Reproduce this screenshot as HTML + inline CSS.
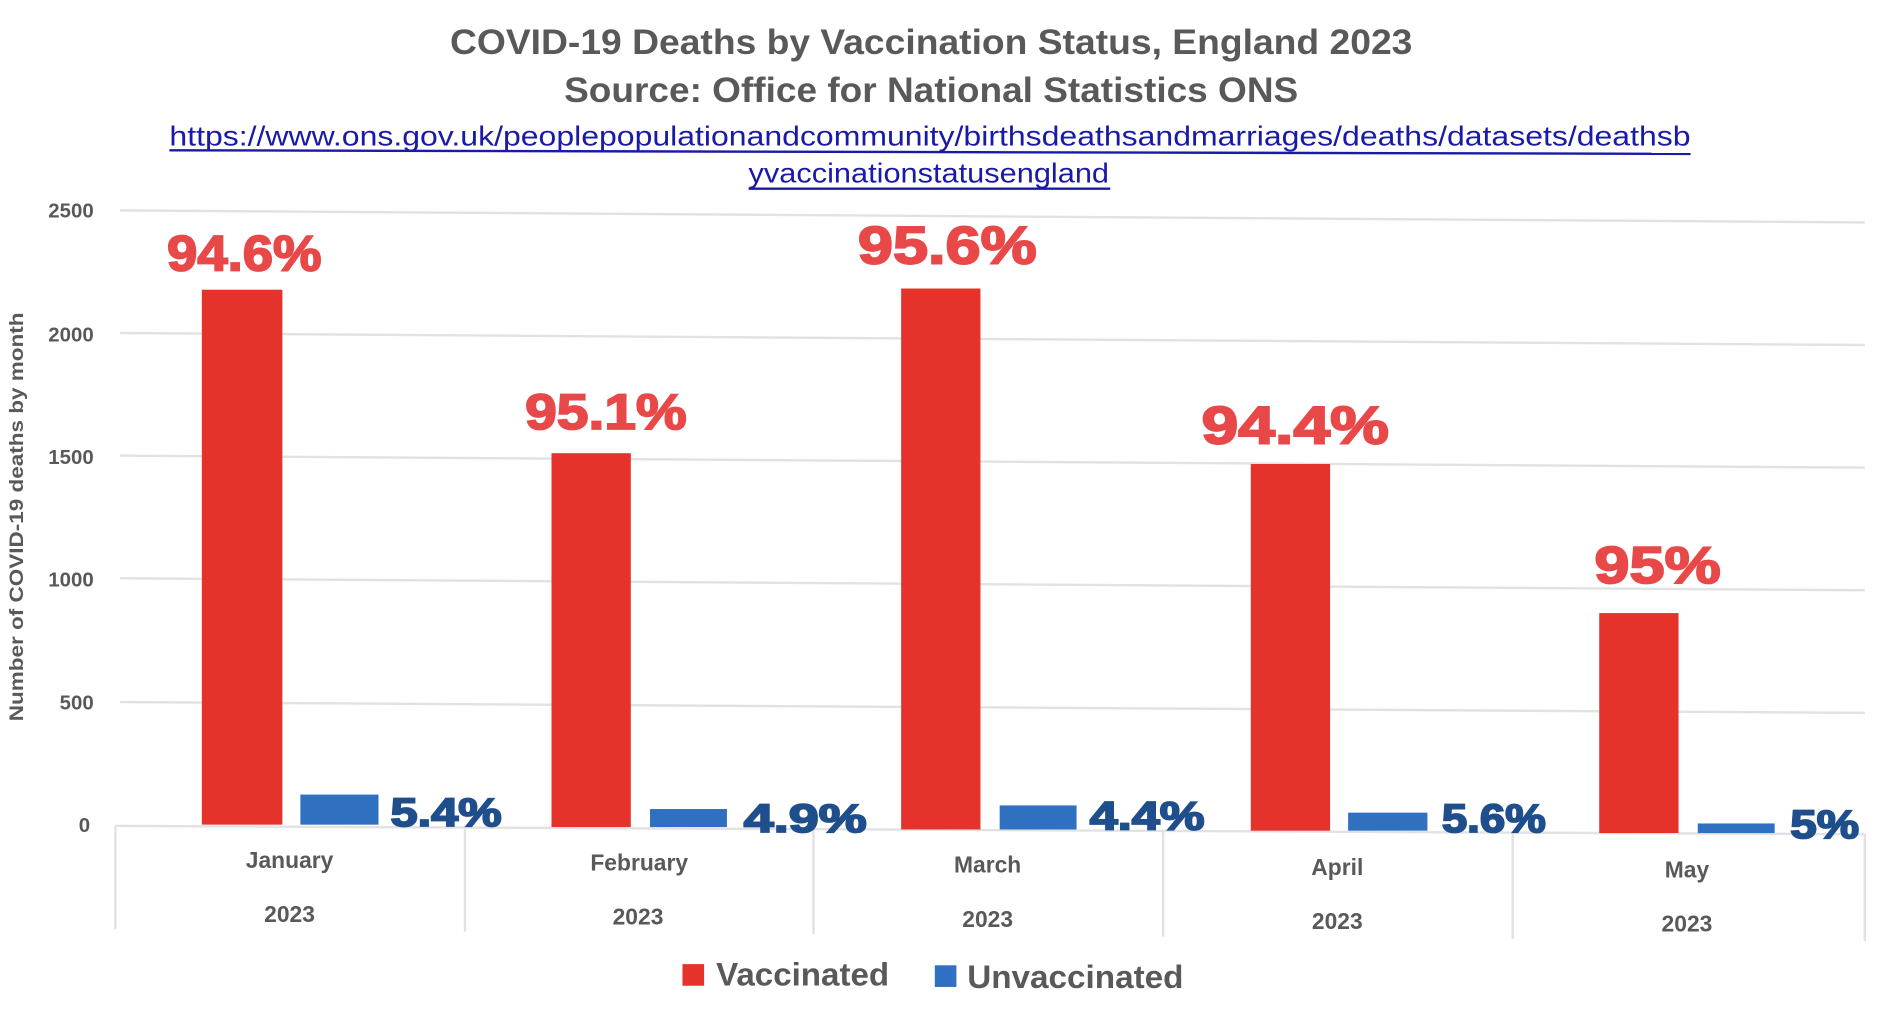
<!DOCTYPE html>
<html><head><meta charset="utf-8"><style>
html,body{margin:0;padding:0;background:#fff;width:1884px;height:1017px;overflow:hidden}
svg{display:block}
text{font-family:"Liberation Sans",sans-serif}
</style></head><body>
<svg width="1884" height="1017" viewBox="0 0 1568 846" preserveAspectRatio="none">
<text x="775" y="45" text-anchor="middle" font-size="29" font-weight="bold" fill="#595959" textLength="801" lengthAdjust="spacingAndGlyphs">COVID-19 Deaths by Vaccination Status, England 2023</text>
<text x="775" y="85" text-anchor="middle" font-size="29" font-weight="bold" fill="#595959" textLength="611" lengthAdjust="spacingAndGlyphs">Source: Office for National Statistics ONS</text>
<text x="774" y="121" text-anchor="middle" font-size="23" fill="#1a1aa8" textLength="1266" lengthAdjust="spacingAndGlyphs">https://www.ons.gov.uk/peoplepopulationandcommunity/birthsdeathsandmarriages/deaths/datasets/deathsb</text>
<line x1="141" y1="125" x2="1407" y2="128" stroke="#1a1aa8" stroke-width="2"/>
<text x="773" y="152" text-anchor="middle" font-size="23" fill="#1a1aa8" textLength="300" lengthAdjust="spacingAndGlyphs">yvaccinationstatusengland</text>
<line x1="623" y1="157" x2="924" y2="157" stroke="#1a1aa8" stroke-width="2"/>
<g stroke="#e2e2e2" stroke-width="2">
<line x1="100" y1="175" x2="1552" y2="185"/>
<line x1="100" y1="277" x2="1552" y2="287"/>
<line x1="100" y1="379" x2="1552" y2="389"/>
<line x1="100" y1="481" x2="1552" y2="491"/>
<line x1="100" y1="584" x2="1552" y2="593"/>
<line x1="96" y1="687" x2="1552" y2="694"/>
<line x1="96" y1="687" x2="96" y2="773"/>
<line x1="387" y1="688" x2="387" y2="775"/>
<line x1="677" y1="689" x2="677" y2="777"/>
<line x1="968" y1="691" x2="968" y2="779"/>
<line x1="1259" y1="692" x2="1259" y2="781"/>
<line x1="1552" y1="694" x2="1552" y2="783"/>
</g>
<g font-size="17" font-weight="bold" fill="#595959" text-anchor="end">
<text x="78" y="181">2500</text><text x="78" y="284">2000</text><text x="78" y="386">1500</text>
<text x="78" y="488">1000</text><text x="78" y="590">500</text><text x="75" y="692">0</text>
</g>
<text transform="translate(19,430) rotate(-90)" text-anchor="middle" font-size="16" font-weight="bold" fill="#595959" textLength="340" lengthAdjust="spacingAndGlyphs">Number of COVID-19 deaths by month</text>
<g fill="#e5322a">
<rect x="168" y="241" width="67" height="445"/>
<rect x="459" y="377" width="66" height="311"/>
<rect x="750" y="240" width="66" height="450"/>
<rect x="1041" y="386" width="66" height="305"/>
<rect x="1331" y="510" width="66" height="183"/>
</g>
<g fill="#2f70c0">
<rect x="250" y="661" width="65" height="25"/>
<rect x="541" y="673" width="64" height="15"/>
<rect x="832" y="670" width="64" height="20"/>
<rect x="1122" y="676" width="66" height="15"/>
<rect x="1413" y="685" width="64" height="8"/>
</g>
<g font-size="42" font-weight="bold" fill="#e84848" stroke="#e84848" stroke-width="1.5">
<text transform="translate(139,225) scale(1.08,1)">94.6%</text>
<text transform="translate(437,357) scale(1.13,1)">95.1%</text>
<text transform="translate(714,219) scale(1.25,1.05)">95.6%</text>
<text transform="translate(1000,369) scale(1.31,1.05)">94.4%</text>
<text transform="translate(1327,485) scale(1.25,1.02)">95%</text>
</g>
<g font-size="33" font-weight="bold" fill="#1f4e8c" stroke="#1f4e8c" stroke-width="1.5">
<text transform="translate(325,687) scale(1.23,1)">5.4%</text>
<text transform="translate(619,692) scale(1.36,1)">4.9%</text>
<text transform="translate(907,690) scale(1.27,1)">4.4%</text>
<text transform="translate(1200,692) scale(1.15,1)">5.6%</text>
<text transform="translate(1490,697) scale(1.2,1)">5%</text>
</g>
<g font-size="19" font-weight="bold" fill="#595959" text-anchor="middle">
<text x="241" y="722">January</text><text x="532" y="724">February</text><text x="822" y="726">March</text>
<text x="1113" y="728">April</text><text x="1404" y="730">May</text>
<text x="241" y="767">2023</text><text x="531" y="769">2023</text><text x="822" y="771">2023</text>
<text x="1113" y="773">2023</text><text x="1404" y="775">2023</text>
</g>
<rect x="568" y="802" width="18" height="18" fill="#e5322a"/>
<text x="596" y="820" font-size="27" font-weight="bold" fill="#595959" textLength="144" lengthAdjust="spacingAndGlyphs">Vaccinated</text>
<rect x="778" y="803" width="18" height="18" fill="#2f70c0"/>
<text x="805" y="822" font-size="27" font-weight="bold" fill="#595959" textLength="180" lengthAdjust="spacingAndGlyphs">Unvaccinated</text>
</svg>
</body></html>
